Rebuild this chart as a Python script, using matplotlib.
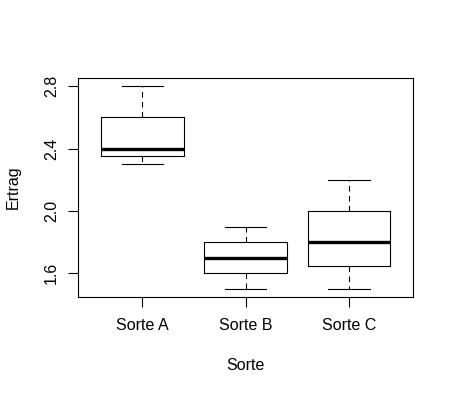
import matplotlib
matplotlib.use("Agg")
import matplotlib.pyplot as plt

# box statistics per variety
sorten = ["Sorte A", "Sorte B", "Sorte C"]
whisker_lo = [2.3, 1.5, 1.5]
q1 = [2.35, 1.6, 1.65]
median = [2.4, 1.7, 1.8]
q3 = [2.6, 1.8, 2.0]
whisker_hi = [2.8, 1.9, 2.2]
yticks = [1.6, 2.0, 2.4, 2.8]
yticklabels = ["1.6", "2.0", "2.4", "2.8"]

plt.rcParams["font.family"] = ["Liberation Sans", "DejaVu Sans"]
plt.rcParams["font.size"] = 11.5

fig = plt.figure(figsize=(4.54, 3.95), dpi=100)
ax = fig.add_axes([0.1725, 0.248, 0.7375, 0.5545])

stats = []
for i, name in enumerate(sorten):
    stats.append({
        "label": name,
        "whislo": whisker_lo[i],
        "q1": q1[i],
        "med": median[i],
        "q3": q3[i],
        "whishi": whisker_hi[i],
        "fliers": [],
    })

ax.bxp(
    stats,
    positions=[1, 2, 3],
    widths=0.8,
    showfliers=False,
    boxprops=dict(color="black", linewidth=0.8),
    medianprops=dict(color="black", linewidth=2.4, solid_capstyle="butt"),
    whiskerprops=dict(color="black", linewidth=0.8, linestyle=(0, (5, 4))),
    capprops=dict(color="black", linewidth=0.8),
    capwidths=0.4,
)

ax.set_xlim(0.38, 3.62)
ax.set_ylim(1.448, 2.852)
ax.set_yticks(yticks)
ax.set_yticklabels(yticklabels)
ax.set_xticks([1, 2, 3])
ax.set_xticklabels(sorten)

for sp in ax.spines.values():
    sp.set_linewidth(0.8)
ax.tick_params(axis="both", direction="out", length=7, width=0.8, colors="black")
ax.tick_params(axis="y", labelrotation=90, pad=7)
ax.tick_params(axis="x", pad=8)
for lbl in ax.get_yticklabels():
    lbl.set_verticalalignment("center")

ax.set_xlabel("Sorte")
ax.set_ylabel("Ertrag")
ax.xaxis.set_label_coords(0.5, -0.311)
ax.xaxis.label.set_verticalalignment("center")
ax.yaxis.set_label_coords(-0.195, 0.5)
ax.yaxis.label.set_verticalalignment("center")

fig.savefig("out.png", dpi=100)
